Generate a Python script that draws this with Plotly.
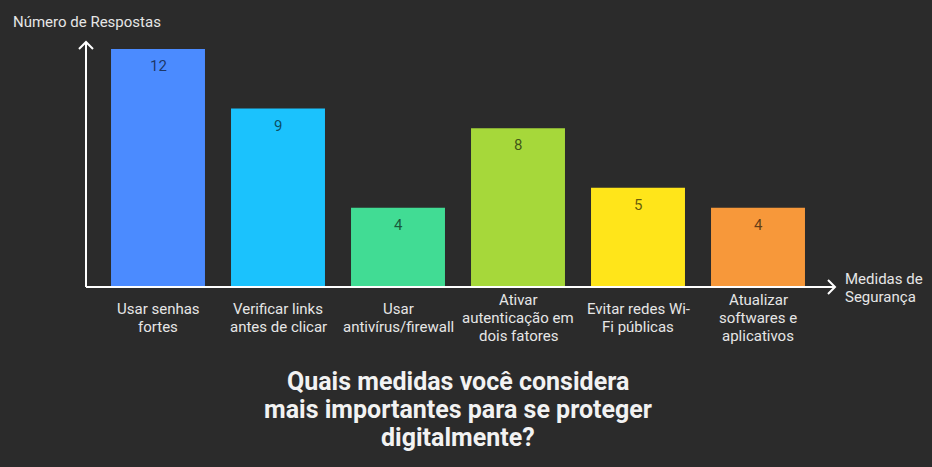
import plotly.graph_objects as go

categories = ["Usar senhas<br>fortes", "Verificar links<br>antes de clicar", "Usar<br>antivírus/firewall",
              "Ativar<br>autenticação em<br>dois fatores", "Evitar redes Wi-<br>Fi públicas",
              "Atualizar<br>softwares e<br>aplicativos"]
values = [12, 9, 4, 8, 5, 4]
colors = ["#4b8bff", "#1bc2fd", "#41dc94", "#a6d83a", "#ffe51a", "#f7983a"]
y_title = "Número de Respostas"
x_title = ["Medidas de", "Segurança"]
title_lines = ["Quais medidas você considera", "mais importantes para se proteger", "digitalmente?"]

W, H = 932, 467
L, R, T, B = 86, 97, 42, 180
pw, ph = W - L - R, H - T - B
bg = "#2b2b2b"
FONT = "Roboto"
LBL = "#e6e6e6"

def fx(xpix):
    return (xpix - L) / pw
def fy(ypix):
    return (H - B - ypix) / ph

xs = list(range(len(categories)))
fig = go.Figure()
fig.add_trace(go.Bar(x=xs, y=values, marker=dict(color=colors, line=dict(width=0)),
                     width=0.783, hoverinfo="skip"))

ann = []
for i, v in enumerate(values):
    ann.append(dict(x=i, y=v, xref="x", yref="y", text=str(v), showarrow=False,
                    yanchor="middle", yshift=-17,
                    font=dict(family=FONT, size=15, color="rgba(0,0,0,0.62)")))
    lines = categories[i].split("<br>")
    n = len(lines)
    for j, ln in enumerate(lines):
        ypix = 318 + (j - (n - 1) / 2) * 18
        ann.append(dict(x=i, y=fy(ypix), xref="x", yref="paper", text=ln,
                        showarrow=False, yanchor="middle", align="center",
                        font=dict(family=FONT, size=15, color=LBL)))
ann.append(dict(x=fx(11), y=fy(22), xref="paper", yref="paper", text=y_title, showarrow=False,
                xanchor="left", yanchor="middle",
                font=dict(family=FONT, size=15, color=LBL)))
for j, ln in enumerate(x_title):
    ann.append(dict(x=fx(843), y=fy(279 + 18 * j), xref="paper", yref="paper",
                    text=ln, showarrow=False, xanchor="left", yanchor="middle",
                    font=dict(family=FONT, size=15, color=LBL)))
for j, ln in enumerate(title_lines):
    ann.append(dict(x=fx(458), y=fy(381 + 28.5 * j), xref="paper", yref="paper",
                    text="<b>" + ln + "</b>", showarrow=False, xanchor="center", yanchor="middle",
                    font=dict(family=FONT, size=25, color="#f2f2f2")))

# axis lines with open chevron arrowheads (paper coords)
def px(dx):
    return dx / pw
def py(dy):
    return dy / ph
a = 7
lw = 2
shapes = [
    dict(type="line", xref="paper", yref="paper", x0=0, y0=0, x1=0, y1=1,
         line=dict(color="white", width=lw)),
    dict(type="line", xref="paper", yref="paper", x0=0, y0=0, x1=1, y1=0,
         line=dict(color="white", width=lw)),
    dict(type="path", xref="paper", yref="paper",
         path=f"M {-px(a)} {1 - py(a)} L 0 1 L {px(a)} {1 - py(a)}",
         line=dict(color="white", width=lw)),
    dict(type="path", xref="paper", yref="paper",
         path=f"M {1 - px(a)} {py(a)} L 1 0 L {1 - px(a)} {-py(a)}",
         line=dict(color="white", width=lw)),
]

fig.update_layout(
    width=W, height=H, margin=dict(l=L, r=R, t=T, b=B),
    paper_bgcolor=bg, plot_bgcolor=bg, showlegend=False,
    xaxis=dict(range=[-0.6, 5.6417], showgrid=False, zeroline=False, showticklabels=False,
               showline=False, fixedrange=True),
    yaxis=dict(range=[0, 245 / 19.83], showgrid=False, zeroline=False, showticklabels=False,
               showline=False, fixedrange=True),
    annotations=ann, shapes=shapes,
    font=dict(family=FONT),
)
fig.write_html("out.html", config=dict(displayModeBar=False))
